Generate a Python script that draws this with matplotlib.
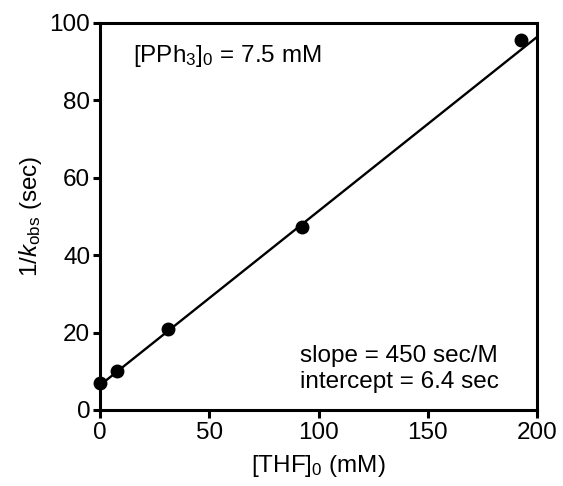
import matplotlib
matplotlib.use("Agg")
import matplotlib.pyplot as plt
import numpy as np

plt.rcParams['font.family'] = ['Liberation Sans', 'DejaVu Sans']
plt.rcParams['mathtext.fontset'] = 'custom'
plt.rcParams['mathtext.rm'] = 'Liberation Sans'
plt.rcParams['mathtext.it'] = 'Liberation Sans:italic'

# data
thf = [0, 8, 31, 92.5, 192.7]          # [THF]0 in mM
inv_kobs = [6.9, 10.2, 20.9, 47.3, 95.6]  # 1/kobs in sec
slope = 0.45       # sec/mM  (450 sec/M)
intercept = 6.4    # sec

fs = 17.5

fig = plt.figure(figsize=(5.63, 4.86), dpi=100)
ax = fig.add_axes([0.1776, 0.1564, 0.7764, 0.7963])

xfit = np.array([0, 200])
ax.plot(xfit, slope * xfit + intercept, color='black', lw=1.7, clip_on=False)
ax.plot(thf, inv_kobs, 'o', color='black', ms=9, clip_on=False)

ax.set_xlim(0, 200)
ax.set_ylim(0, 100)
ax.set_xticks([0, 50, 100, 150, 200])
ax.set_yticks([0, 20, 40, 60, 80, 100])

for s in ax.spines.values():
    s.set_linewidth(2.2)
ax.tick_params(axis='both', which='both', labelsize=fs, width=2.2,
               top=False, right=False, direction='out')
ax.tick_params(axis='x', length=6, pad=3)
ax.tick_params(axis='y', length=5, pad=2)

ax.set_xlabel(r'[THF]$_0$ (mM)', fontsize=fs, labelpad=6)
ax.set_ylabel(r'1/$\mathit{k}_{\mathrm{obs}}$ (sec)', fontsize=fs, labelpad=4)

ax.text(15, 91.5, r'[PPh$_3$]$_0$ = 7.5 mM', fontsize=fs, va='center', ha='left')
ax.text(91.5, 10.5, 'slope = 450 sec/M\nintercept = 6.4 sec', fontsize=fs,
        va='center', ha='left', linespacing=1.25)

fig.savefig('out.png', dpi=100)
